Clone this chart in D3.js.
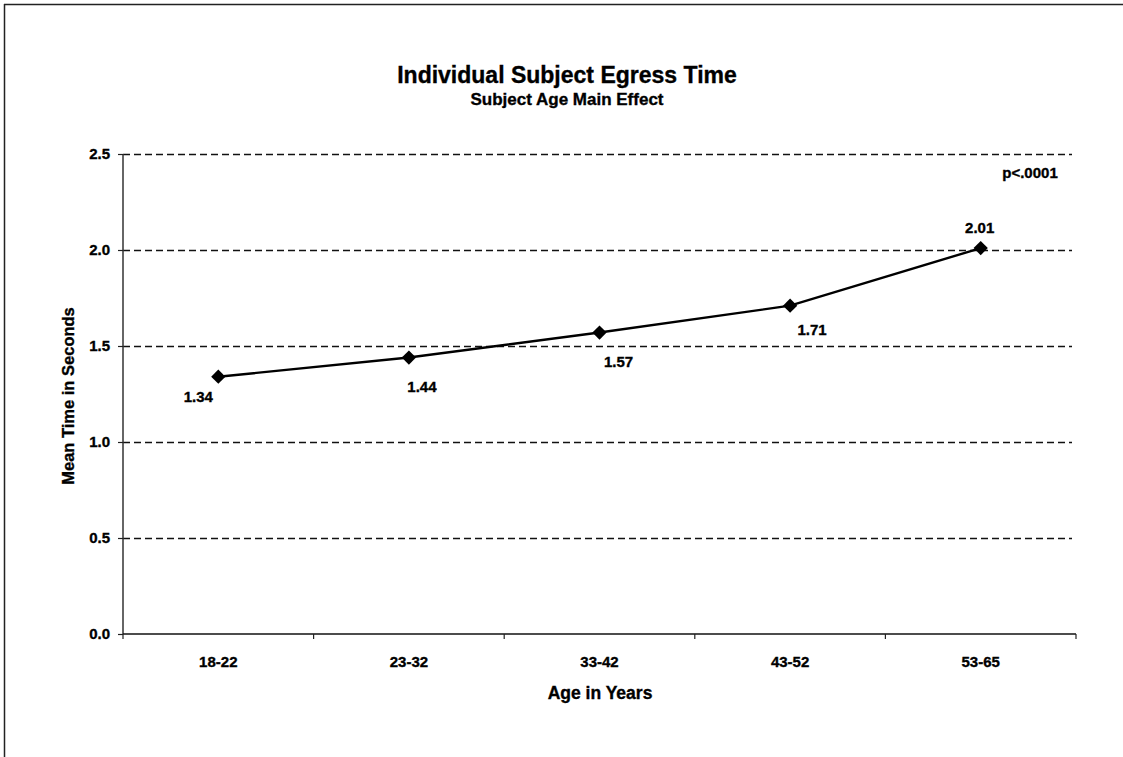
<!DOCTYPE html>
<html>
<head>
<meta charset="utf-8">
<script src="https://cdn.jsdelivr.net/npm/d3@7"></script>
<style>
  html, body { margin: 0; padding: 0; background: #fff; }
  svg { display: block; font-family: "Liberation Sans", Arial, Helvetica, sans-serif; font-weight: bold; }
  svg text { stroke: #000; stroke-width: 0.35px; }
</style>
</head>
<body>
<svg id="chart" width="1123" height="757"></svg>
<script>
// ---- data ----
const categories = ["18-22", "23-32", "33-42", "43-52", "53-65"];
const meanTimes = [1.34, 1.44, 1.57, 1.71, 2.01];
const yTicks = [0.0, 0.5, 1.0, 1.5, 2.0, 2.5];
const titleText = "Individual Subject Egress Time";
const subtitleText = "Subject Age Main Effect";
const xTitle = "Age in Years";
const yTitle = "Mean Time in Seconds";
const pText = "p<.0001";

// label placement relative to each point (layout only)
const labelOffsets = [[-20, 25], [13, 34], [19, 34], [22, 29], [-1, -15]];

const svg = d3.select("#chart");
const W = 1123, H = 757;
const m = { left: 123, right: 1076, top: 154, bottom: 634 };

const x = d3.scaleBand().domain(categories).range([m.left, m.right]).padding(0);
const y = d3.scaleLinear().domain([0, 2.5]).range([m.bottom, m.top]);

// frame lines (scanned page border)
svg.append("line").attr("x1", 4.5).attr("x2", 4.5).attr("y1", 4).attr("y2", H)
  .attr("stroke", "#222").attr("stroke-width", 1.5);
svg.append("line").attr("x1", 4).attr("x2", W).attr("y1", 4.5).attr("y2", 4.5)
  .attr("stroke", "#222").attr("stroke-width", 1.5);

// gridlines
svg.append("g").selectAll("line").data(yTicks.filter(d => d > 0)).join("line")
  .attr("x1", m.left).attr("x2", 1072)
  .attr("y1", d => Math.round(y(d)) + 0.5).attr("y2", d => Math.round(y(d)) + 0.5)
  .attr("stroke", "#111").attr("stroke-width", 1.3)
  .attr("stroke-dasharray", "7,4");

// y axis
const yAxis = d3.axisLeft(y).tickValues(yTicks).tickFormat(d3.format(".1f")).tickSize(5).tickPadding(8);
const gy = svg.append("g").attr("transform", `translate(${m.left},0)`).call(yAxis);
gy.select(".domain").attr("stroke", "#333").attr("stroke-width", 1.5).attr("d", `M0,${m.top}V${m.bottom}`);
gy.selectAll(".tick line").attr("stroke", "#222").attr("stroke-width", 1.2);
gy.selectAll(".tick text").attr("font-size", 15).attr("font-weight", "bold")
  .attr("font-family", "Liberation Sans, Arial, sans-serif").attr("fill", "#000");

// x axis (ticks at band boundaries)
const boundaries = categories.map(c => x(c)).concat([m.right]);
const gx = svg.append("g");
gx.append("line").attr("x1", m.left).attr("x2", m.right)
  .attr("y1", m.bottom).attr("y2", m.bottom)
  .attr("stroke", "#111").attr("stroke-width", 1.5);
gx.selectAll("line.tk").data(boundaries).join("line").attr("class", "tk")
  .attr("x1", d => d).attr("x2", d => d)
  .attr("y1", m.bottom).attr("y2", m.bottom + 5)
  .attr("stroke", "#222").attr("stroke-width", 1.2);
gx.selectAll("text").data(categories).join("text")
  .attr("x", d => x(d) + x.bandwidth() / 2)
  .attr("y", 667)
  .attr("text-anchor", "middle")
  .attr("font-size", 15).attr("fill", "#000")
  .text(d => d);

// line
const line = d3.line().x((d, i) => x(categories[i]) + x.bandwidth() / 2).y(d => y(d));
svg.append("path").datum(meanTimes).attr("d", line)
  .attr("fill", "none").attr("stroke", "#000").attr("stroke-width", 2.4);

// markers (diamonds)
const diamond = d3.symbol().type(d3.symbolDiamond2).size(130);
svg.append("g").selectAll("path").data(meanTimes).join("path")
  .attr("d", diamond)
  .attr("transform", (d, i) => `translate(${x(categories[i]) + x.bandwidth() / 2},${y(d)})`)
  .attr("fill", "#000");

// value labels
svg.append("g").selectAll("text").data(meanTimes).join("text")
  .attr("x", (d, i) => x(categories[i]) + x.bandwidth() / 2 + labelOffsets[i][0])
  .attr("y", (d, i) => y(d) + labelOffsets[i][1])
  .attr("text-anchor", "middle")
  .attr("font-size", 15).attr("fill", "#000")
  .text(d => d.toFixed(2));

// titles
svg.append("text").attr("x", 567).attr("y", 83).attr("text-anchor", "middle")
  .attr("font-size", 23).attr("fill", "#000").text(titleText);
svg.append("text").attr("x", 567).attr("y", 105).attr("text-anchor", "middle")
  .attr("font-size", 17).attr("fill", "#000").text(subtitleText);

svg.append("text").attr("x", 600).attr("y", 699).attr("text-anchor", "middle")
  .attr("font-size", 17.5).attr("fill", "#000").text(xTitle);

svg.append("text").attr("transform", "translate(74,396) rotate(-90)")
  .attr("text-anchor", "middle").attr("font-size", 16.5).attr("fill", "#000").text(yTitle);

svg.append("text").attr("x", 1030).attr("y", 178).attr("text-anchor", "middle")
  .attr("font-size", 15).attr("fill", "#000").text(pText);
</script>
</body>
</html>
